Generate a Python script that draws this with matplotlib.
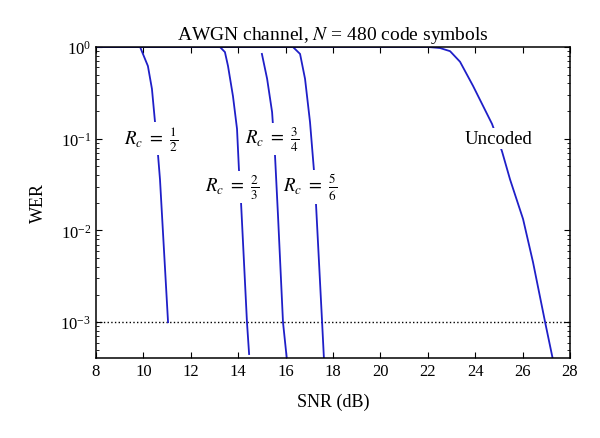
import numpy as np
import matplotlib
matplotlib.use('Agg')
import matplotlib.pyplot as plt

# Curves (SNR in dB, WER)
snr_r12 = [8.0, 9.86, 10.19, 10.36, 10.49, 10.62, 10.70, 11.04]
wer_r12 = [1.0, 1.0, 0.62, 0.35, 0.152, 0.065, 0.036, 1e-3]

snr_r23 = [8.0, 13.23, 13.44, 13.57, 13.78, 13.95, 14.03, 14.12, 14.37, 14.46]
wer_r23 = [1.0, 1.0, 0.88, 0.62, 0.29, 0.128, 0.047, 0.020, 1e-3, 4.5e-4]

snr_r34 = [15.00, 15.22, 15.43, 15.55, 15.68, 15.89, 16.06]
wer_r34 = [0.84, 0.45, 0.195, 0.068, 0.0144, 1e-3, 3.8e-4]

snr_r56 = [8.0, 16.31, 16.61, 16.82, 17.03, 17.20, 17.28, 17.54, 17.62]
wer_r56 = [1.0, 1.0, 0.84, 0.45, 0.152, 0.044, 0.020, 1e-3, 3.9e-4]

snr_unc = [8.0, 22.0, 22.51, 22.94, 23.36, 23.91, 24.71, 25.13, 25.47, 26.02, 26.44, 26.95, 27.28]
wer_unc = [1.0, 1.0, 0.975, 0.90, 0.69, 0.376, 0.145, 0.073, 0.036, 0.0133, 4.5e-3, 1e-3, 3.9e-4]

target_wer = 1e-3

labels = [r'$R_c\ =\ \frac{1}{2}$', r'$R_c\ =\ \frac{2}{3}$', r'$R_c\ =\ \frac{3}{4}$',
          r'$R_c\ =\ \frac{5}{6}$', 'Uncoded']
label_x = [10.32, 13.74, 15.43, 17.03, 25.0]
label_y = [0.1, 0.0297, 0.1, 0.0297, 0.1]

plt.rcParams['font.family'] = 'Liberation Serif'
plt.rcParams['mathtext.fontset'] = 'stix'

fig = plt.figure(figsize=(6.0, 4.39), dpi=100)
ax = fig.add_axes([0.16, 0.1822, 0.79, 0.7085])

blue = '#1f1fc8'
for x, y in [(snr_r12, wer_r12), (snr_r23, wer_r23), (snr_r34, wer_r34),
             (snr_r56, wer_r56), (snr_unc, wer_unc)]:
    ax.plot(x, y, color=blue, lw=1.3, zorder=2)

ax.axhline(target_wer, color='k', ls=':', lw=1.0, zorder=1)

for t, x, y in zip(labels, label_x, label_y):
    ax.text(x, y, t, ha='center', va='center', fontsize=13.5, zorder=3,
            bbox=dict(facecolor='white', edgecolor='none', pad=1.5))

ax.set_yscale('log')
ax.set_xlim(8, 28)
ax.set_ylim(4.07e-4, 1)
ax.set_xticks(np.arange(8, 29, 2))
ax.set_yticks([1e-3, 1e-2, 1e-1, 1])
ax.tick_params(which='both', direction='in', top=True, right=True, labelsize=12)
ax.tick_params(which='major', length=4)
ax.tick_params(which='minor', length=2.5)
for s in ax.spines.values():
    s.set_linewidth(1.1)

ax.set_xlabel('SNR (dB)', fontsize=13, labelpad=10)
ax.set_ylabel('WER', fontsize=13, labelpad=10)
ax.set_title(r'AWGN channel, $N$ = 480 code symbols', fontsize=14, pad=6)

fig.savefig('out.png', dpi=100)
